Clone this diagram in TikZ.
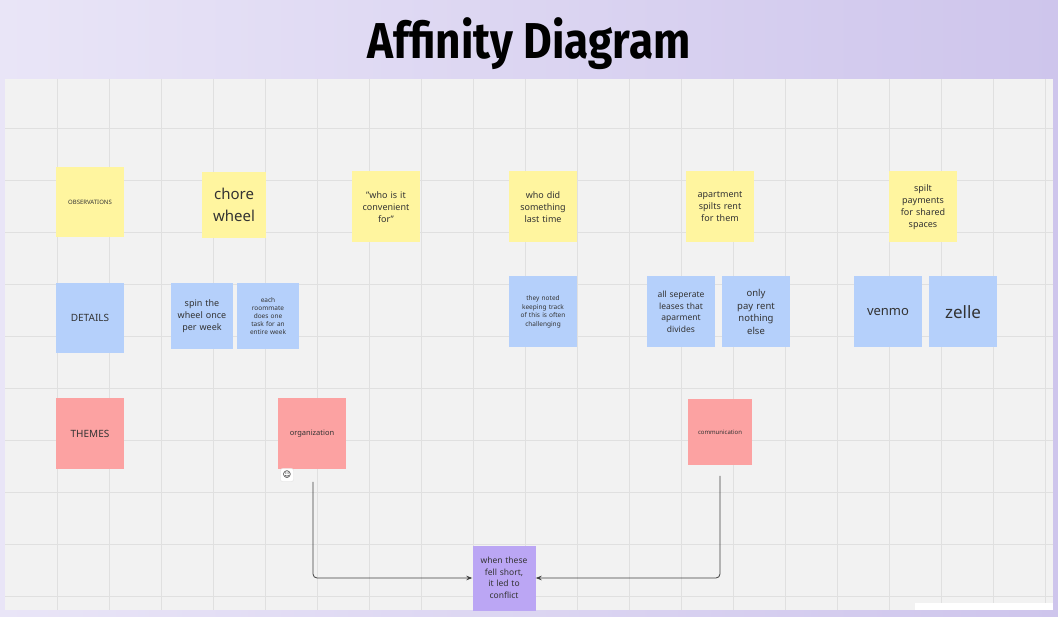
\documentclass[tikz,border=0pt]{standalone}
\usepackage{fontspec}
\setmainfont{Noto Sans}
\newfontfamily\titlefont{Fira Sans}
\newfontfamily\symbfont{DejaVu Sans}
\usetikzlibrary{arrows.meta}
\definecolor{bgA}{HTML}{E9E5F7}
\definecolor{bgB}{HTML}{CEC5EC}
\definecolor{canvas}{HTML}{F2F2F2}
\definecolor{gridc}{HTML}{E0E0E0}
\definecolor{noteY}{HTML}{FFF59F}
\definecolor{noteB}{HTML}{B5D0FB}
\definecolor{noteR}{HTML}{FCA2A2}
\definecolor{noteP}{HTML}{BBA6F4}
\tikzset{
  note/.style={minimum width=68pt,minimum height=70pt,text width=50pt,align=center,
    inner sep=2pt,font=\fontsize{9}{12}\selectfont,text=black!80},
  obs/.style={note,fill=noteY},
  det/.style={note,fill=noteB},
  thm/.style={note,fill=noteR},
  link/.style={thick,black!75,-{Stealth[length=6pt]},rounded corners=4pt}
}
\hyphenpenalty=10000
\begin{document}
\begin{tikzpicture}[x=1pt,y=-1pt]
      \useasboundingbox (0,0) rectangle (1058,617);
      % background
      \shade [left color=bgA,right color=bgB] (0,0) rectangle (1058,617);
      \fill [canvas] (5,79) rectangle (1053,610);
      \foreach \x in {57,109,...,1053} \draw [gridc] (\x,79) -- (\x,610);
      \foreach \y in {128,180,...,610} \draw [gridc] (5,\y) -- (1053,\y);
      \fill [white] (915,603) rectangle (1053,610);
      \node [xscale=1.05,yscale=1.2] (title) at (529,44) {\titlefont\bfseries\fontsize{42}{44}\selectfont Affinity Diagram};
      % observations
      \node [obs,font=\fontsize{6}{8}\selectfont] (obs) at (90,202) {OBSERVATIONS};
      \node [obs,minimum width=64pt,minimum height=66pt,font=\fontsize{15}{22}\selectfont] (chore) at (234,205) {chore wheel};
      \node [obs,minimum height=71pt] (conv) at (386,207) {"who is it convenient for"};
      \node [obs,minimum height=71pt] (last) at (543,207) {who did something last time};
      \node [obs,minimum height=71pt,text width=52pt] (rent) at (720,207) {apartment spilts rent for them};
      \node [obs,minimum height=71pt,text width=46pt] (spaces) at (923,207) {spilt payments for shared spaces};
      % details
      \node [det,font=\fontsize{10}{12}\selectfont] (det) at (90,318) {DETAILS};
      \node [det,minimum width=62pt,minimum height=66pt,text width=52pt] (spin) at (202,316) {spin the wheel once per week};
      \node [det,minimum width=62pt,minimum height=66pt,text width=46pt,font=\fontsize{6.5}{8}\selectfont] (task) at (268,316) {each roommate does one task for an entire week};
      \node [det,minimum height=71pt,text width=54pt,font=\fontsize{6.5}{8.5}\selectfont] (track) at (543,312) {they noted keeping track of this is often challenging};
      \node [det,minimum height=71pt,text width=56pt,font=\fontsize{8.5}{11.5}\selectfont] (lease) at (681,312) {all seperate leases that aparment divides};
      \node [det,minimum height=71pt,text width=42pt,font=\fontsize{9.5}{12.5}\selectfont] (only) at (756,312) {only pay rent nothing else};
      \node [det,minimum height=71pt,font=\fontsize{13}{16}\selectfont] (venmo) at (888,312) {venmo};
      \node [det,minimum height=71pt,font=\fontsize{17}{20}\selectfont] (zelle) at (963,312) {zelle};
      % themes
      \node [thm,minimum height=71pt,font=\fontsize{10}{12}\selectfont] (thm) at (90,434) {THEMES};
      \node [thm,minimum height=71pt,font=\fontsize{7.5}{9}\selectfont] (org) at (312,434) {organization};
      \node [thm,minimum width=64pt,minimum height=66pt,font=\fontsize{6}{8}\selectfont] (comm) at (720,432) {communication};
      \node [draw=gridc,fill=white,rounded corners=2pt,minimum size=13pt,inner sep=0pt,font=\symbfont\fontsize{8}{8}\selectfont] (emoji) at (287,475) {☺};
      % conflict
      \node [note,fill=noteP,minimum width=63pt,minimum height=65pt,text width=50pt,font=\fontsize{8.5}{11.5}\selectfont] (conflict) at (504,578) {when these fell short, it led to conflict};
      \coordinate (orgEnd) at (313,482);
      \coordinate (commEnd) at (720,476);
      \draw [link] (orgEnd) |- (conflict.west);
      \draw [link] (commEnd) |- (conflict.east);
\end{tikzpicture}
\end{document}
